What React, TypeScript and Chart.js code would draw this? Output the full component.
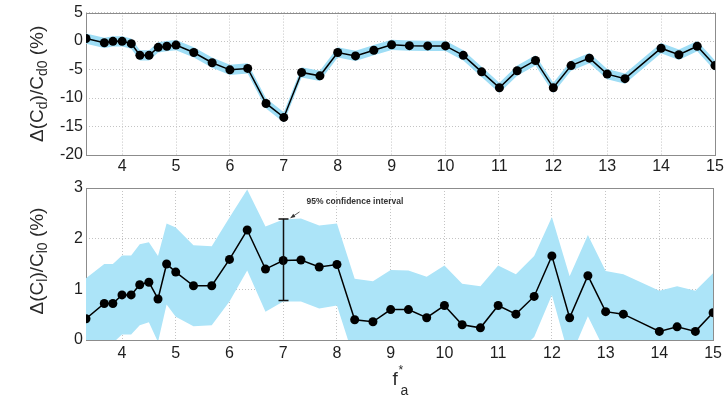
import React, { useEffect, useRef } from 'react';
import { Chart, registerables } from 'chart.js';

Chart.register(...registerables);

// ---------- data ----------
const xVals = [3.33, 3.67, 3.83, 4, 4.17, 4.33, 4.5, 4.67, 4.83, 5, 5.33, 5.67, 6, 6.33, 6.67, 7, 7.33, 7.67, 8, 8.33, 8.67, 9, 9.33, 9.67, 10, 10.33, 10.67, 11, 11.33, 11.67, 12, 12.33, 12.67, 13, 13.33, 14, 14.33, 14.67, 15];

const cdMean = [0.45, -0.3, -0.05, -0.05, -0.45, -2.5, -2.5, -1.1, -0.9, -0.7, -2.0, -3.8, -5.05, -4.8, -10.95, -13.4, -5.5, -6.1, -2.0, -2.6, -1.6, -0.65, -0.8, -0.85, -0.85, -2.5, -5.4, -8.2, -5.2, -3.4, -8.2, -4.3, -3.0, -5.8, -6.6, -1.25, -2.4, -0.9, -4.3];
const cdUpper = [1.35, 0.6, 0.85, 0.85, 0.45, -1.6, -1.6, -0.2, 0, 0.2, -1.1, -2.9, -4.15, -3.9, -10.05, -12.5, -4.6, -5.2, -1.1, -1.7, -0.7, 0.25, 0.1, 0.05, 0.05, -1.6, -4.5, -7.3, -4.3, -2.5, -7.3, -3.4, -2.1, -4.9, -5.7, -0.35, -1.5, 0, -3.4];
const cdLower = [-0.45, -1.2, -0.95, -0.95, -1.35, -3.4, -3.4, -2.0, -1.8, -1.6, -2.9, -4.7, -5.95, -5.7, -11.85, -14.3, -6.4, -7.0, -2.9, -3.5, -2.5, -1.55, -1.7, -1.75, -1.75, -3.4, -6.3, -9.1, -6.1, -4.3, -9.1, -5.2, -3.9, -6.7, -7.5, -2.15, -3.3, -1.8, -5.2];

const clMean = [0.42, 0.72, 0.72, 0.89, 0.89, 1.09, 1.14, 0.81, 1.50, 1.34, 1.07, 1.07, 1.59, 2.17, 1.40, 1.57, 1.58, 1.44, 1.49, 0.40, 0.36, 0.60, 0.60, 0.44, 0.68, 0.30, 0.24, 0.68, 0.51, 0.86, 1.66, 0.44, 1.27, 0.56, 0.51, 0.17, 0.26, 0.17, 0.54];
const clUpper = [1.22, 1.50, 1.50, 1.67, 1.67, 1.89, 1.93, 1.66, 2.30, 2.22, 1.87, 1.85, 2.42, 2.97, 2.24, 2.38, 2.40, 2.26, 2.30, 1.21, 1.16, 1.38, 1.37, 1.25, 1.47, 1.11, 1.06, 1.47, 1.30, 1.66, 2.43, 1.26, 2.07, 1.36, 1.30, 0.97, 1.06, 0.97, 1.32];
const clLower = [-0.38, -0.06, -0.06, 0.11, 0.11, 0.29, 0.35, -0.04, 0.70, 0.46, 0.27, 0.29, 0.76, 1.37, 0.56, 0.76, 0.76, 0.62, 0.68, -0.41, -0.44, -0.18, -0.17, -0.37, -0.11, -0.51, -0.58, -0.11, -0.28, 0.06, 0.89, -0.38, 0.47, -0.24, -0.28, -0.63, -0.54, -0.63, -0.24];

const xTicks = [4, 5, 6, 7, 8, 9, 10, 11, 12, 13, 14, 15];
const cdTicks = [-20, -15, -10, -5, 0, 5];
const clTicks = [0, 1, 2, 3];

const errX = 7;
const errLow = 0.78;
const errHigh = 2.39;
const annotationText = '95% confidence interval';

// ---------- styles ----------
const FONT = '"Liberation Sans", Arial, sans-serif';
const TICK_COLOR = '#1e1e1e';
const GRID_COLOR = '#c4c4c4';
const FRAME_COLOR = '#8c8c8c';
const BAND_TOP = 'rgb(158,221,245)';
const BAND_BOTTOM = 'rgb(172,228,248)';

type Part = [string, boolean];

function pts(ys: number[]) {
  return xVals.map((x, i) => ({ x, y: ys[i] }));
}

function drawRotatedRich(ctx: CanvasRenderingContext2D, parts: Part[], baseX: number, centerY: number) {
  const mainFont = `19px ${FONT}`;
  const subFont = `14px ${FONT}`;
  ctx.save();
  let total = 0;
  const widths = parts.map(([t, sub]) => {
    ctx.font = sub ? subFont : mainFont;
    const w = ctx.measureText(t).width;
    total += w;
    return w;
  });
  ctx.translate(baseX, centerY);
  ctx.rotate(-Math.PI / 2);
  ctx.fillStyle = '#2a2a2a';
  ctx.textBaseline = 'alphabetic';
  ctx.textAlign = 'left';
  let x = -total / 2;
  parts.forEach(([t, sub], i) => {
    ctx.font = sub ? subFont : mainFont;
    ctx.fillText(t, x, sub ? 4 : 0);
    x += widths[i];
  });
  ctx.restore();
}

function makeFramePlugin(id: string) {
  return {
    id,
    beforeDatasetsDraw(chart: any) {
      const { ctx, chartArea } = chart;
      ctx.save();
      ctx.strokeStyle = FRAME_COLOR;
      ctx.lineWidth = 1;
      ctx.strokeRect(Math.round(chartArea.left) + 0.5, Math.round(chartArea.top) + 0.5,
        Math.round(chartArea.right - chartArea.left), Math.round(chartArea.bottom - chartArea.top));
      ctx.restore();
    },
  };
}

function makeOptions(yMin: number, yMax: number, yTicks: number[], xAxisHeight: number, padTop: number, xPad: number) {
  return {
    responsive: false,
    animation: false as const,
    maintainAspectRatio: false,
    layout: { padding: { top: padTop, right: 11, left: 0, bottom: 0 } },
    plugins: { legend: { display: false }, tooltip: { enabled: false } },
    scales: {
      x: {
        type: 'linear' as const,
        min: 3.33,
        max: 15,
        afterBuildTicks: (s: any) => { s.ticks = xTicks.map((v) => ({ value: v })); },
        afterFit: (s: any) => { s.height = xAxisHeight; },
        grid: { color: GRID_COLOR, lineWidth: 1, drawTicks: false },
        border: { display: false, dash: [1, 2] },
        ticks: { color: TICK_COLOR, font: { family: FONT, size: 16 }, padding: xPad, maxRotation: 0, autoSkip: false },
      },
      y: {
        type: 'linear' as const,
        min: yMin,
        max: yMax,
        afterBuildTicks: (s: any) => { s.ticks = yTicks.map((v) => ({ value: v })); },
        afterFit: (s: any) => { s.width = 86; },
        grid: { color: GRID_COLOR, lineWidth: 1, drawTicks: false },
        border: { display: false, dash: [1, 2] },
        ticks: { color: TICK_COLOR, font: { family: FONT, size: 16 }, padding: 3, autoSkip: false },
      },
    },
  };
}

function makeDatasets(mean: number[], upper: number[], lower: number[], band: string) {
  return [
    {
      data: pts(mean),
      borderColor: '#000',
      borderWidth: 1.5,
      pointRadius: 4.5,
      pointBackgroundColor: '#000',
      pointBorderColor: '#000',
      pointBorderWidth: 0,
      fill: false,
      order: 0,
    },
    {
      data: pts(upper),
      borderWidth: 0,
      borderColor: 'rgba(0,0,0,0)',
      pointRadius: 0,
      backgroundColor: band,
      fill: '+1',
      order: 1,
    },
    {
      data: pts(lower),
      borderWidth: 0,
      borderColor: 'rgba(0,0,0,0)',
      pointRadius: 0,
      fill: false,
      order: 2,
    },
  ];
}

export default function App() {
  const topRef = useRef<HTMLCanvasElement>(null);
  const botRef = useRef<HTMLCanvasElement>(null);

  useEffect(() => {
    const topTitle = {
      id: 'topTitle',
      afterDraw(chart: any) {
        const a = chart.chartArea;
        drawRotatedRich(chart.ctx, [['Δ(C', false], ['d', true], [')/C', false], ['d0', true], [' (%)', false]], 43, (a.top + a.bottom) / 2);
      },
    };
    const botTitle = {
      id: 'botTitle',
      afterDraw(chart: any) {
        const a = chart.chartArea;
        const ctx = chart.ctx as CanvasRenderingContext2D;
        drawRotatedRich(ctx, [['Δ(C', false], ['l', true], [')/C', false], ['l0', true], [' (%)', false]], 43, (a.top + a.bottom) / 2 - 3);
        // x-axis title f_a^*
        const cx = (a.left + a.right) / 2;
        ctx.save();
        ctx.fillStyle = '#2a2a2a';
        ctx.textAlign = 'left';
        ctx.textBaseline = 'alphabetic';
        ctx.font = `19px ${FONT}`;
        ctx.fillText('f', cx - 7, a.bottom + 45);
        ctx.font = `14px ${FONT}`;
        ctx.fillText('a', cx + 1, a.bottom + 55);
        ctx.font = `12px ${FONT}`;
        ctx.fillText('*', cx - 1, a.bottom + 34);
        ctx.restore();
      },
    };
    const errPlugin = {
      id: 'errBar',
      afterDatasetsDraw(chart: any) {
        const ctx = chart.ctx as CanvasRenderingContext2D;
        const xs = chart.scales.x;
        const ys = chart.scales.y;
        const x = Math.round(xs.getPixelForValue(errX)) + 0.5;
        const y1 = ys.getPixelForValue(errLow);
        const y2 = ys.getPixelForValue(errHigh);
        ctx.save();
        ctx.strokeStyle = '#111';
        ctx.lineWidth = 1.5;
        ctx.beginPath();
        ctx.moveTo(x, y1); ctx.lineTo(x, y2);
        ctx.moveTo(x - 5, y1); ctx.lineTo(x + 5, y1);
        ctx.moveTo(x - 5, y2); ctx.lineTo(x + 5, y2);
        ctx.stroke();
        // arrow + annotation
        ctx.lineWidth = 0.8;
        ctx.strokeStyle = '#333';
        const ax1 = x + 16, ay1 = y2 - 7;
        const ax2 = x + 7, ay2 = y2 - 1;
        ctx.beginPath();
        ctx.moveTo(ax1, ay1); ctx.lineTo(ax2, ay2);
        ctx.stroke();
        const ang = Math.atan2(ay2 - ay1, ax2 - ax1);
        ctx.fillStyle = '#333';
        ctx.beginPath();
        ctx.moveTo(ax2, ay2);
        ctx.lineTo(ax2 - 5 * Math.cos(ang - 0.4), ay2 - 5 * Math.sin(ang - 0.4));
        ctx.lineTo(ax2 - 5 * Math.cos(ang + 0.4), ay2 - 5 * Math.sin(ang + 0.4));
        ctx.closePath();
        ctx.fill();
        ctx.font = `bold 8.5px ${FONT}`;
        ctx.textAlign = 'left';
        ctx.textBaseline = 'middle';
        ctx.fillStyle = '#333';
        ctx.fillText(annotationText, x + 23, y2 - 17);
        ctx.restore();
      },
    };

    const top = new Chart(topRef.current!, {
      type: 'line',
      data: { datasets: makeDatasets(cdMean, cdUpper, cdLower, BAND_TOP) as any },
      options: makeOptions(-20, 5, cdTicks, 20, 7, 2) as any,
      plugins: [makeFramePlugin('frameTop'), topTitle],
    });
    const bot = new Chart(botRef.current!, {
      type: 'line',
      data: { datasets: makeDatasets(clMean, clUpper, clLower, BAND_BOTTOM) as any },
      options: makeOptions(0, 3, clTicks, 57, 13, 4) as any,
      plugins: [makeFramePlugin('frameBot'), botTitle, errPlugin],
    });
    return () => { top.destroy(); bot.destroy(); };
  }, []);

  return (
    <div style={{ position: 'absolute', left: 0, top: 0, width: 726, height: 397, background: '#fff' }}>
      <canvas ref={topRef} width={726} height={175} style={{ position: 'absolute', left: 0, top: 0, width: 726, height: 175 }} />
      <canvas ref={botRef} width={726} height={222} style={{ position: 'absolute', left: 0, top: 175, width: 726, height: 222 }} />
    </div>
  );
}
